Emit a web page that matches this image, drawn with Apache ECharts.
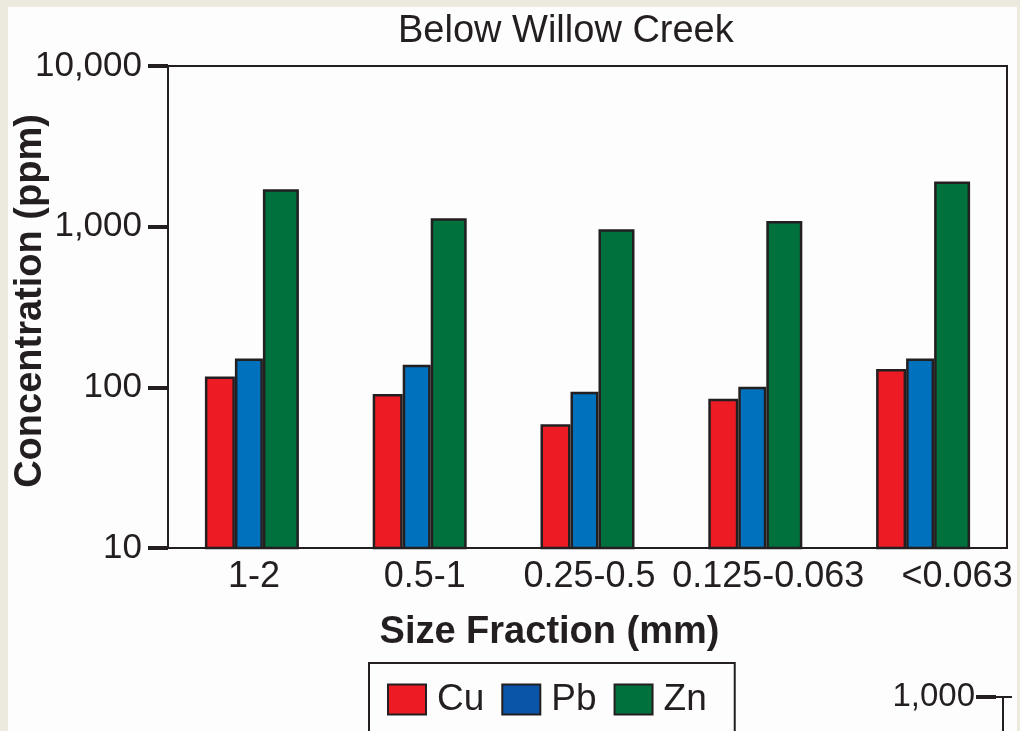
<!DOCTYPE html>
<html>
<head>
<meta charset="utf-8">
<title>Below Willow Creek</title>
<script src="https://cdn.jsdelivr.net/npm/echarts@6/dist/echarts.min.js"></script>
<style>
  html, body { margin: 0; padding: 0; background: #ece9df; }
  #sheet { position: absolute; left: 8px; top: 7px; width: 1009px; height: 724px; background: #fdfdfd; }
  #chart { position: absolute; left: 0; top: 0; width: 1020px; height: 731px; }
</style>
</head>
<body>
<div id="sheet"></div>
<div id="chart"></div>
<script>
// Size fractions (mm) and metal concentrations (ppm)
const sizeFractions = ['1-2', '0.5-1', '0.25-0.5', '0.125-0.063', '<0.063'];
const cuValues = [117, 91, 59, 85, 130];
const pbValues = [151, 138, 94, 101, 151];
const znValues = [1710, 1130, 965, 1085, 1910];
const yTickLabels = { 10: '10', 100: '100', 1000: '1,000', 10000: '10,000' };

const ink = '#231f20';
const font = '"Liberation Sans", Arial, Helvetica, sans-serif';

// horizontal nudges for the crowded right-hand category labels
const labelShift = [4, 10, 4, 26, 68];

const chart = echarts.init(document.getElementById('chart'), null, { renderer: 'canvas' });

function barSeries(name, values, color, width) {
  return {
    name: name,
    type: 'bar',
    data: values,
    barWidth: width,
    barGap: '0%',
    itemStyle: { color: color, borderColor: ink, borderWidth: 2.5 }
  };
}

function shiftedLabel(i) {
  return { fontFamily: font, fontSize: 36, color: ink, padding: [0, 0, 0, labelShift[i]] };
}

chart.setOption({
  animation: false,
  backgroundColor: 'transparent',
  textStyle: { fontFamily: font },
  title: {
    text: 'Below Willow Creek',
    left: 393,
    top: 8,
    textStyle: { fontFamily: font, fontSize: 38, fontWeight: 'normal', color: ink }
  },
  grid: {
    left: 168, right: 13, top: 66, bottom: 183,
    outerBoundsMode: 'none',
    containLabel: false,
    show: true, backgroundColor: 'transparent', borderColor: ink, borderWidth: 2
  },
  legend: {
    left: 369,
    top: 663,
    orient: 'horizontal',
    padding: [18, 28, 40, 18],
    borderColor: ink,
    borderWidth: 2,
    itemWidth: 38,
    itemHeight: 30,
    itemGap: 17,
    icon: 'rect',
    itemStyle: { borderColor: ink, borderWidth: 2 },
    textStyle: { fontFamily: font, fontSize: 37, color: ink, padding: [0, 0, 0, 6] },
    data: [
      { name: 'Cu' },
      { name: 'Pb', itemStyle: { color: '#0a55a8' } },
      { name: 'Zn' }
    ]
  },
  xAxis: {
    type: 'category',
    data: sizeFractions,
    name: 'Size Fraction (mm)',
    nameLocation: 'middle',
    nameMoveOverlap: false,
    nameGap: 66,
    nameTextStyle: { fontFamily: font, fontSize: 38, fontWeight: 'bold', color: ink, padding: [0, 76, 0, 0] },
    axisLine: { lineStyle: { color: ink, width: 2 } },
    axisTick: { show: false },
    axisLabel: {
      margin: 11,
      fontFamily: font,
      fontSize: 36,
      color: ink,
      interval: 0,
      formatter: function (v, i) { return '{s' + i + '|' + v + '}'; },
      rich: {
        s0: shiftedLabel(0),
        s1: shiftedLabel(1),
        s2: shiftedLabel(2),
        s3: shiftedLabel(3),
        s4: shiftedLabel(4)
      }
    },
    splitLine: { show: false }
  },
  yAxis: {
    type: 'log',
    logBase: 10,
    min: 10,
    max: 10000,
    name: 'Concentration (ppm)',
    nameLocation: 'middle',
    nameRotate: 90,
    nameMoveOverlap: false,
    nameGap: 118,
    nameTextStyle: { fontFamily: font, fontSize: 38, fontWeight: 'bold', color: ink, padding: [0, 0, 0, 12] },
    axisLine: { show: true, lineStyle: { color: ink, width: 2 } },
    axisTick: { show: true, length: 20, lineStyle: { color: ink, width: 4 } },
    minorTick: { show: false },
    splitLine: { show: false },
    axisLabel: {
      margin: 26,
      fontFamily: font,
      fontSize: 35,
      color: ink,
      formatter: function (v) { return yTickLabels[Math.round(v)] || ''; }
    }
  },
  series: [
    barSeries('Cu', cuValues, '#ed1c24', 30),
    barSeries('Pb', pbValues, '#0071bc', 28),
    barSeries('Zn', znValues, '#00703c', 36)
  ],
  // corner of the neighbouring panel's axis peeking in at the bottom right
  graphic: [
    {
      type: 'text',
      x: 975, y: 697,
      style: { text: '1,000', font: '33px ' + font, fill: ink, textAlign: 'right', textVerticalAlign: 'middle' }
    },
    { type: 'line', shape: { x1: 976, y1: 697, x2: 996, y2: 697 }, style: { stroke: ink, lineWidth: 4 } },
    { type: 'line', shape: { x1: 996, y1: 697, x2: 1012, y2: 697 }, style: { stroke: ink, lineWidth: 2 } },
    { type: 'line', shape: { x1: 1003, y1: 697, x2: 1003, y2: 735 }, style: { stroke: ink, lineWidth: 2 } }
  ]
});
</script>
</body>
</html>
